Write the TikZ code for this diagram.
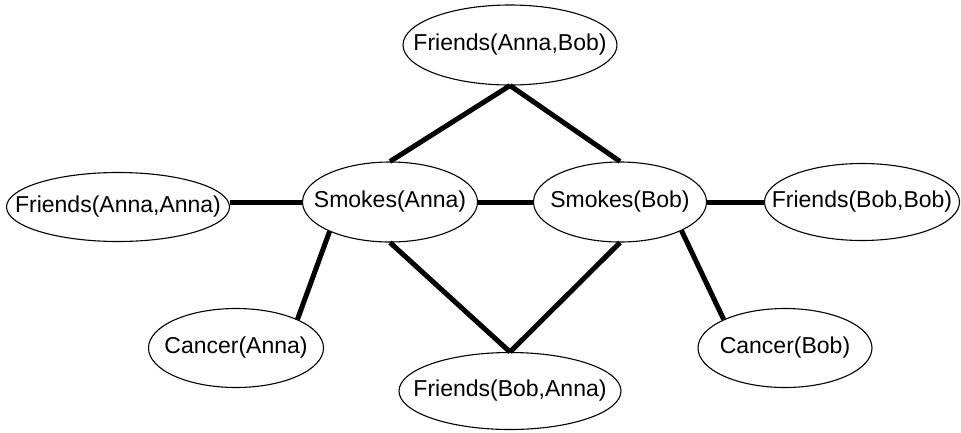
\documentclass[tikz,border=0pt]{standalone}
\usepackage{fontspec}
\setmainfont{Liberation Sans}
\usetikzlibrary{shapes.geometric}
\begin{document}
\begin{tikzpicture}[x=1pt,y=-1pt,
  var/.style={ellipse,draw,line width=1.1pt,inner sep=0pt},
  vtext/.style={font=\fontsize{23}{26}\selectfont,inner sep=0pt},
  edge/.style={line width=5pt}]
\useasboundingbox (0,0) rectangle (961,432);
\node[var,minimum width=214pt,minimum height=80pt,label={[vtext]center:Friends(Anna,Bob)}] (fab) at (510,45) {};
\node[var,minimum width=223pt,minimum height=69pt,label={[vtext]center:Friends(Anna,Anna)}] (faa) at (118,207) {};
\node[var,minimum width=175pt,minimum height=80pt,label={[vtext]center:Smokes(Anna)}] (sa) at (390,202) {};
\node[var,minimum width=173pt,minimum height=80pt,label={[vtext]center:Smokes(Bob)}] (sb) at (620,202) {};
\node[var,minimum width=195pt,minimum height=77pt,label={[vtext]center:Friends(Bob,Bob)}] (fbb) at (862,202) {};
\node[var,minimum width=175pt,minimum height=79pt,label={[vtext]center:Cancer(Anna)}] (ca) at (236,348) {};
\node[var,minimum width=222pt,minimum height=77pt,label={[vtext]center:Friends(Bob,Anna)}] (fba) at (510,391) {};
\node[var,minimum width=174pt,minimum height=79pt,label={[vtext]center:Cancer(Bob)}] (cb) at (785,348) {};
\draw[edge] (fab.south) -- (sa.north);
\draw[edge] (fab.south) -- (sb.north);
\draw[edge] (sa.south) -- (fba.north);
\draw[edge] (sb.south) -- (fba.north);
\draw[edge] (faa.east |- sa.west) -- (sa.west);
\draw[edge] (sa.east) -- (sb.west);
\draw[edge] (sb.east) -- (fbb.west);
\draw[edge] (sa.206) -- (ca.25);
\draw[edge] (sb.335) -- (cb.155);
\end{tikzpicture}
\end{document}
